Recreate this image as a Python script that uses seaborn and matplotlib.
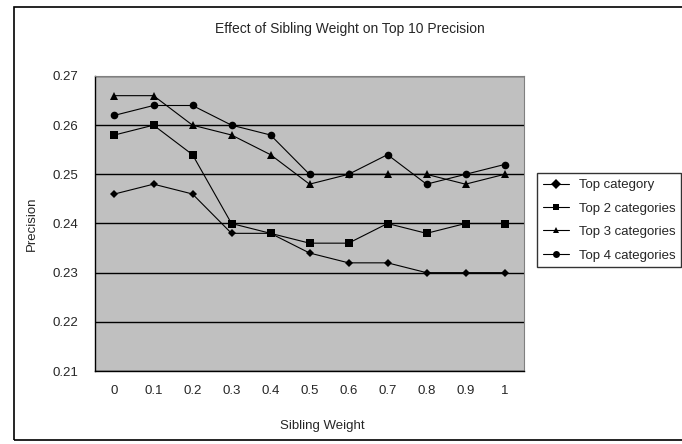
import numpy as np
import pandas as pd
import matplotlib
matplotlib.use('Agg')
import matplotlib.pyplot as plt
from matplotlib.patches import Rectangle
from matplotlib.ticker import FixedLocator
import seaborn as sns

weights = [0, 0.1, 0.2, 0.3, 0.4, 0.5, 0.6, 0.7, 0.8, 0.9, 1]
weight_labels = ['0', '0.1', '0.2', '0.3', '0.4', '0.5', '0.6', '0.7', '0.8', '0.9', '1']

top1 = [0.246, 0.248, 0.246, 0.238, 0.238, 0.234, 0.232, 0.232, 0.230, 0.230, 0.230]
top2 = [0.258, 0.260, 0.254, 0.240, 0.238, 0.236, 0.236, 0.240, 0.238, 0.240, 0.240]
top3 = [0.266, 0.266, 0.260, 0.258, 0.254, 0.248, 0.250, 0.250, 0.250, 0.248, 0.250]
top4 = [0.262, 0.264, 0.264, 0.260, 0.258, 0.250, 0.250, 0.254, 0.248, 0.250, 0.252]
series_names = ['Top category', 'Top 2 categories', 'Top 3 categories', 'Top 4 categories']
marker_sizes = [4.5, 5.5, 6, 5.5]

df = pd.DataFrame({
    'weight': weights * 4,
    'precision': top1 + top2 + top3 + top4,
    'series': np.repeat(series_names, len(weights)),
})

sns.set_style('white')
plt.rcParams['font.family'] = ['Liberation Sans', 'DejaVu Sans']
fs = 9.5

fig = plt.figure(figsize=(6.82, 4.44), dpi=100)
ax = fig.add_axes([95 / 682, 1 - 371 / 444, 429 / 682, 295 / 444])
ax.set_facecolor('#c0c0c0')

sns.lineplot(data=df, x='weight', y='precision', hue='series', style='series',
             palette=['black'] * 4, markers=['D', 's', '^', 'o'], dashes=False,
             markersize=5, linewidth=0.8, markeredgewidth=0, ax=ax)
for line, ms in zip(ax.lines, marker_sizes):
    line.set_markersize(ms)

ax.set_xlim(-0.05, 1.05)
ax.set_ylim(0.21, 0.27)
ax.set_yticks(np.arange(0.21, 0.2701, 0.01))
ax.set_yticklabels(['0.21', '0.22', '0.23', '0.24', '0.25', '0.26', '0.27'])
ax.yaxis.grid(True, color='black', linewidth=1)
ax.set_axisbelow(True)

ax.set_xticks(weights)
ax.set_xticklabels(weight_labels)
ax.xaxis.set_minor_locator(FixedLocator(np.arange(-0.05, 1.06, 0.1)))
ax.tick_params(axis='x', which='major', length=0, labelsize=fs, pad=10)
ax.tick_params(axis='x', which='minor', length=4, width=0.8, color='black', direction='out')
ax.tick_params(axis='y', length=4, width=0.8, color='black', direction='out', labelsize=fs, pad=8)

for side in ['top', 'right']:
    ax.spines[side].set_color('#808080')
    ax.spines[side].set_linewidth(0.8)
for side in ['left', 'bottom']:
    ax.spines[side].set_color('black')
    ax.spines[side].set_linewidth(1)

ax.set_xlabel('Sibling Weight', fontsize=fs)
ax.xaxis.set_label_coords(0.53, -49 / 295)
ax.set_ylabel('Precision', fontsize=fs)
ax.yaxis.set_label_coords(-57 / 429, 0.5)
fig.text(350 / 682, 1 - 29 / 444, 'Effect of Sibling Weight on Top 10 Precision',
         ha='center', va='center', fontsize=fs + 0.5)

leg = ax.legend(loc='upper left', bbox_to_anchor=(537 / 682, 1 - 173 / 444),
                bbox_transform=fig.transFigure, borderaxespad=0, frameon=True,
                fancybox=False, edgecolor='black', fontsize=fs, handlelength=2.0,
                labelspacing=0.85, borderpad=0.45, handletextpad=0.7)
leg.get_frame().set_linewidth(1)

fig.patches.append(Rectangle((14 / 682, 1 - 440 / 444), 700 / 682, 433 / 444,
                             transform=fig.transFigure, fill=False,
                             edgecolor='black', linewidth=1.2))

fig.savefig('out.png', dpi=100)
